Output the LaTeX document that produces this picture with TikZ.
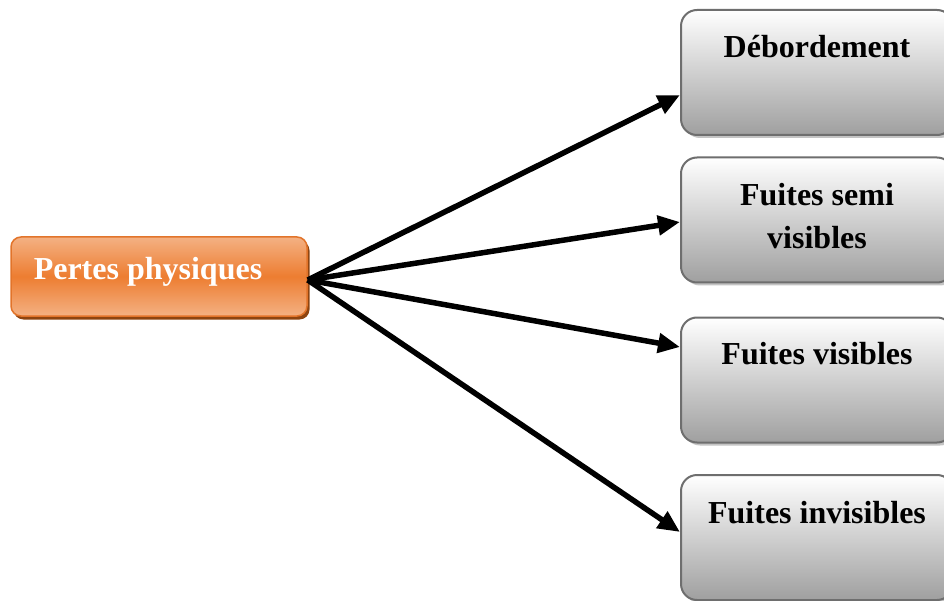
\documentclass[tikz,border=0pt]{standalone}
\usepackage{fontspec}
\setmainfont{Liberation Serif}
\usetikzlibrary{arrows.meta,shadows}
\definecolor{orangemid}{HTML}{ED7D31}
\definecolor{orangelight}{HTML}{F4B183}
\definecolor{orangeedge}{HTML}{E2742A}
\definecolor{orangeshadow}{HTML}{8E4410}
\definecolor{boxedge}{HTML}{6E6E6E}
\definecolor{boxshadow}{HTML}{C4C4C4}
\tikzset{
  rootbox/.style={rectangle, rounded corners=10pt, draw=orangeedge, line width=1.5pt,
    top color=orangelight, bottom color=orangelight, middle color=orangemid,
    minimum width=296pt, minimum height=79pt, inner sep=0pt,
    drop shadow={shadow xshift=2.5pt, shadow yshift=-3.5pt, fill=orangeshadow, opacity=1}},
  leafbox/.style={rectangle, rounded corners=16pt, draw=boxedge, line width=2pt,
    top color=white, bottom color=gray!75,
    minimum width=272pt, minimum height=125pt, inner sep=0pt,
    drop shadow={shadow xshift=3pt, shadow yshift=-3pt, fill=boxshadow, opacity=1}},
  boxtext/.style={font=\bfseries\fontsize{32}{43}\selectfont, align=center, inner sep=0pt},
  link/.style={line width=5.5pt, -{Triangle[length=22pt,width=19pt]}}
}
\begin{document}
\begin{tikzpicture}[x=1pt, y=-1pt]
  \clip (0,0) rectangle (944,601);
  \fill[white] (0,0) rectangle (944,601);

  % root box
  \node[rootbox] (pp) at (159,276.5) {};
  \node[boxtext, text=white] (pptxt) at (148,272) {Pertes physiques};

  % leaf boxes
  \node[leafbox] (b1) at (817,72.5) {};
  \node[leafbox] (b2) at (817,220) {};
  \node[leafbox] (b3) at (817,380) {};
  \node[leafbox] (b4) at (817,537.5) {};

  \node[boxtext] (t1) at (817,47) {Débordement};
  \node[boxtext] (t2) at (817,216.5) {Fuites semi\\visibles};
  \node[boxtext] (t3) at (817,354) {Fuites visibles};
  \node[boxtext] (t4) at (817,513) {Fuites invisibles};

  % connectors
  \coordinate (src) at ([yshift=-3.5pt]pp.east);
  \draw[link] (src) -- ([yshift=-22.5pt]b1.west);
  \draw[link] (src) -- ([yshift=-2pt]b2.west);
  \draw[link] (src) -- ([yshift=33pt]b3.west);
  \draw[link] (src) -- ([yshift=5.5pt]b4.west);
\end{tikzpicture}
\end{document}
